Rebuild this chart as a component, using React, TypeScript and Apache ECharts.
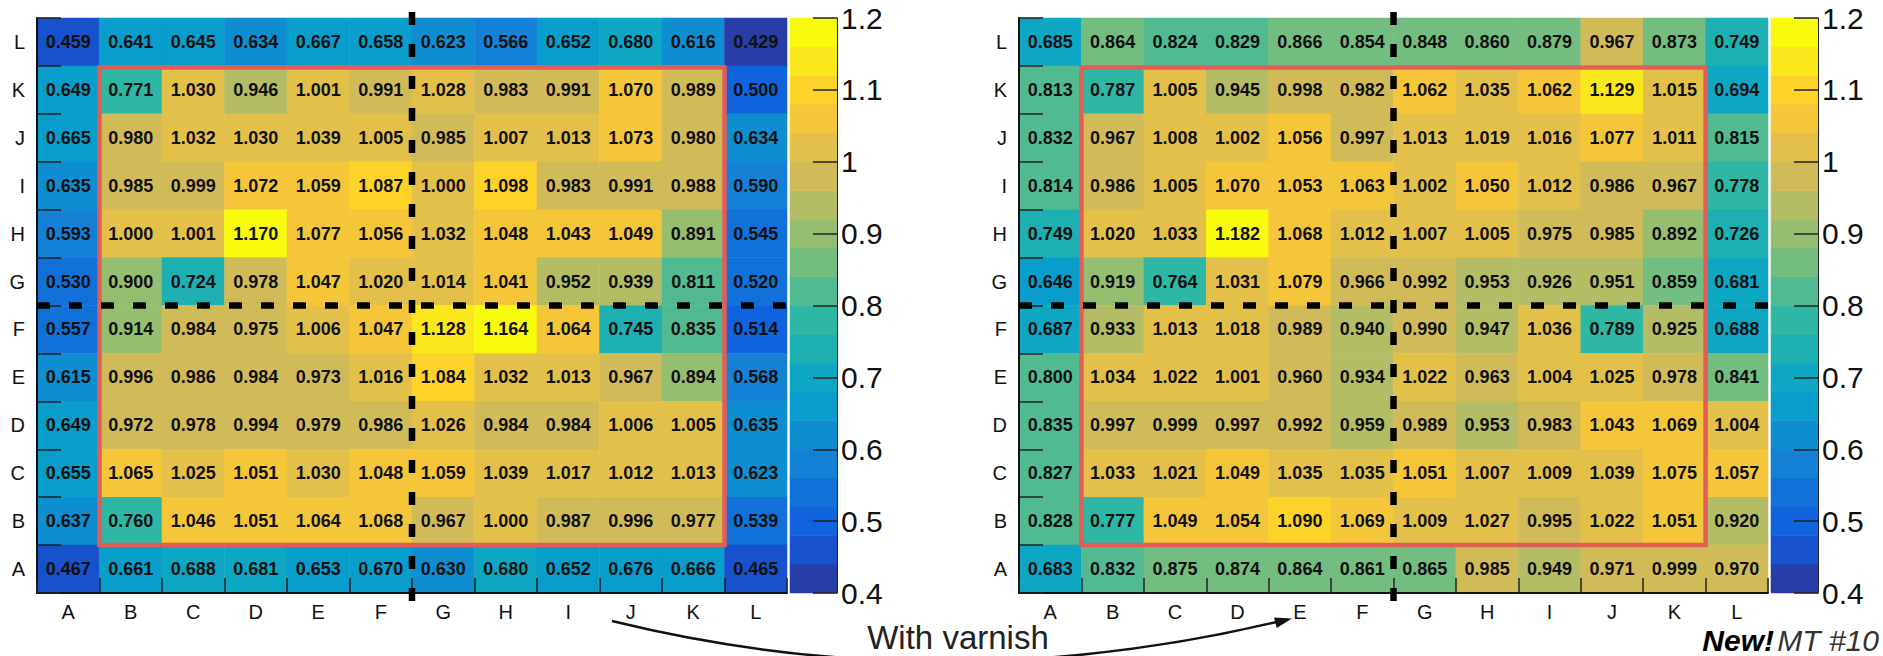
import React, { useEffect, useRef } from 'react';
import * as echarts from 'echarts';

// ---------- data ----------
const columns = ['A', 'B', 'C', 'D', 'E', 'F', 'G', 'H', 'I', 'J', 'K', 'L'];
const rowsTopToBottom = ['L', 'K', 'J', 'I', 'H', 'G', 'F', 'E', 'D', 'C', 'B', 'A'];

// rows listed from L (top) to A (bottom), columns A..L
const withoutVarnish: number[][] = [
  [0.459, 0.641, 0.645, 0.634, 0.667, 0.658, 0.623, 0.566, 0.652, 0.680, 0.616, 0.429],
  [0.649, 0.771, 1.030, 0.946, 1.001, 0.991, 1.028, 0.983, 0.991, 1.070, 0.989, 0.500],
  [0.665, 0.980, 1.032, 1.030, 1.039, 1.005, 0.985, 1.007, 1.013, 1.073, 0.980, 0.634],
  [0.635, 0.985, 0.999, 1.072, 1.059, 1.087, 1.000, 1.098, 0.983, 0.991, 0.988, 0.590],
  [0.593, 1.000, 1.001, 1.170, 1.077, 1.056, 1.032, 1.048, 1.043, 1.049, 0.891, 0.545],
  [0.530, 0.900, 0.724, 0.978, 1.047, 1.020, 1.014, 1.041, 0.952, 0.939, 0.811, 0.520],
  [0.557, 0.914, 0.984, 0.975, 1.006, 1.047, 1.128, 1.164, 1.064, 0.745, 0.835, 0.514],
  [0.615, 0.996, 0.986, 0.984, 0.973, 1.016, 1.084, 1.032, 1.013, 0.967, 0.894, 0.568],
  [0.649, 0.972, 0.978, 0.994, 0.979, 0.986, 1.026, 0.984, 0.984, 1.006, 1.005, 0.635],
  [0.655, 1.065, 1.025, 1.051, 1.030, 1.048, 1.059, 1.039, 1.017, 1.012, 1.013, 0.623],
  [0.637, 0.760, 1.046, 1.051, 1.064, 1.068, 0.967, 1.000, 0.987, 0.996, 0.977, 0.539],
  [0.467, 0.661, 0.688, 0.681, 0.653, 0.670, 0.630, 0.680, 0.652, 0.676, 0.666, 0.465],
];

const withVarnish: number[][] = [
  [0.685, 0.864, 0.824, 0.829, 0.866, 0.854, 0.848, 0.860, 0.879, 0.967, 0.873, 0.749],
  [0.813, 0.787, 1.005, 0.945, 0.998, 0.982, 1.062, 1.035, 1.062, 1.129, 1.015, 0.694],
  [0.832, 0.967, 1.008, 1.002, 1.056, 0.997, 1.013, 1.019, 1.016, 1.077, 1.011, 0.815],
  [0.814, 0.986, 1.005, 1.070, 1.053, 1.063, 1.002, 1.050, 1.012, 0.986, 0.967, 0.778],
  [0.749, 1.020, 1.033, 1.182, 1.068, 1.012, 1.007, 1.005, 0.975, 0.985, 0.892, 0.726],
  [0.646, 0.919, 0.764, 1.031, 1.079, 0.966, 0.992, 0.953, 0.926, 0.951, 0.859, 0.681],
  [0.687, 0.933, 1.013, 1.018, 0.989, 0.940, 0.990, 0.947, 1.036, 0.789, 0.925, 0.688],
  [0.800, 1.034, 1.022, 1.001, 0.960, 0.934, 1.022, 0.963, 1.004, 1.025, 0.978, 0.841],
  [0.835, 0.997, 0.999, 0.997, 0.992, 0.959, 0.989, 0.953, 0.983, 1.043, 1.069, 1.004],
  [0.827, 1.033, 1.021, 1.049, 1.035, 1.035, 1.051, 1.007, 1.009, 1.039, 1.075, 1.057],
  [0.828, 0.777, 1.049, 1.054, 1.090, 1.069, 1.009, 1.027, 0.995, 1.022, 1.051, 0.920],
  [0.683, 0.832, 0.875, 0.874, 0.864, 0.861, 0.865, 0.985, 0.949, 0.971, 0.999, 0.970],
];

const scaleMin = 0.4;
const scaleMax = 1.2;
const scaleStep = 0.1;
const nBands = 20;

// ---------- palette (ROOT kBird) ----------
const birdStops = [0, 0.125, 0.25, 0.375, 0.5, 0.625, 0.75, 0.875, 1];
const birdR = [0.2082, 0.0592, 0.078, 0.0232, 0.1802, 0.5301, 0.8186, 0.9956, 0.9764];
const birdG = [0.1664, 0.3599, 0.5041, 0.6419, 0.7178, 0.7492, 0.7328, 0.7862, 0.9832];
const birdB = [0.5293, 0.8684, 0.8385, 0.7914, 0.6425, 0.4662, 0.3499, 0.1968, 0.0539];

function birdColor(t: number): string {
  let k = 0;
  while (k < birdStops.length - 2 && t > birdStops[k + 1]) k++;
  const f = (t - birdStops[k]) / (birdStops[k + 1] - birdStops[k]);
  const c = (a: number[]) => Math.round(255 * (a[k] + f * (a[k + 1] - a[k])));
  return `rgb(${c(birdR)},${c(birdG)},${c(birdB)})`;
}

const bandLo = (i: number) => Math.round((scaleMin + (i * (scaleMax - scaleMin)) / nBands) * 1000) / 1000;
const bandColors = Array.from({ length: nBands }, (_, i) => birdColor(Math.floor(((i + 0.99) * 255) / nBands) / 254));
const pieces = bandColors.map((color, i) =>
  i === nBands - 1 ? { gte: bandLo(i), lte: bandLo(i + 1), color } : { gte: bandLo(i), lt: bandLo(i + 1), color }
);
const bandNames = bandColors.map((_, i) => 'b' + i);
const colorbarData = bandColors.map((_, i) => [0, i, (bandLo(i) + bandLo(i + 1)) / 2]);

function toHeat(values: number[][]) {
  const out: number[][] = [];
  values.forEach((row, r) => {
    const y = rowsTopToBottom.length - 1 - r;
    row.forEach((v, x) => out.push([x, y, v]));
  });
  return out;
}

const FONT = 'Liberation Sans';
const rowsBottomToTop = [...rowsTopToBottom].reverse();

const heatX = (gridIndex: number) => ({
  type: 'category',
  gridIndex,
  data: columns,
  position: 'bottom',
  z: 10,
  axisLine: { show: true, lineStyle: { color: '#111', width: 2 } },
  axisTick: { show: true, inside: true, length: 15, lineStyle: { color: '#222', width: 1.5 } },
  axisLabel: { interval: 0, fontSize: 20, color: '#111', fontFamily: FONT, margin: 9 },
  splitLine: { show: false },
});
const heatY = (gridIndex: number) => ({
  type: 'category',
  gridIndex,
  data: rowsBottomToTop,
  z: 10,
  axisLine: { show: true, lineStyle: { color: '#111', width: 2 } },
  axisTick: { show: true, inside: true, length: 24, lineStyle: { color: '#222', width: 1.5 } },
  axisLabel: { interval: 0, fontSize: 20, color: '#111', fontFamily: FONT, margin: 12 },
  splitLine: { show: false },
});
const barX = (gridIndex: number) => ({ type: 'category', gridIndex, data: ['c'], show: false });
const barY = (gridIndex: number) => ({ type: 'category', gridIndex, data: bandNames, show: false });
const barScale = (gridIndex: number) => ({
  type: 'value',
  gridIndex,
  position: 'right',
  min: scaleMin,
  max: scaleMax,
  interval: scaleStep,
  z: 10,
  axisLine: { show: true, lineStyle: { color: '#222', width: 1 } },
  axisTick: { show: true, inside: true, length: 24, lineStyle: { color: '#222', width: 1.5 } },
  axisLabel: {
    fontSize: 30,
    color: '#111',
    fontFamily: FONT,
    margin: 4,
    formatter: (v: number) => String(Math.round(v * 10) / 10),
  },
  splitLine: { show: false },
});

const heatSeries = (xi: number, yi: number, values: number[][]) => ({
  type: 'heatmap',
  xAxisIndex: xi,
  yAxisIndex: yi,
  data: toHeat(values),
  label: {
    show: true,
    formatter: (p: any) => Number(p.value[2]).toFixed(3),
    fontSize: 18,
    fontWeight: 'bold',
    color: '#111',
    fontFamily: FONT,
  },
  itemStyle: { borderWidth: 0 },
  emphasis: { disabled: true },
});
const barSeries = (xi: number, yi: number) => ({
  type: 'heatmap',
  xAxisIndex: xi,
  yAxisIndex: yi,
  data: colorbarData,
  label: { show: false },
  emphasis: { disabled: true },
});

function overlays(chart: any, seriesIndex: number) {
  const c00 = chart.convertToPixel({ seriesIndex }, [0, 0]);
  const c11 = chart.convertToPixel({ seriesIndex }, [1, 1]);
  const w = c11[0] - c00[0];
  const h = c00[1] - c11[1];
  const xb = (i: number) => c00[0] + (i - 0.5) * w;
  const yb = (j: number) => c00[1] - (j - 0.5) * h;
  return [
    {
      type: 'rect',
      z: 100,
      shape: { x: xb(1), y: yb(11) + 1.5, width: xb(11) - xb(1), height: yb(1) - yb(11) - 1.5 },
      style: { fill: 'none', stroke: '#e35d57', lineWidth: 4.5 },
    },
    {
      type: 'line',
      z: 101,
      shape: { x1: xb(6), y1: yb(12) - 6, x2: xb(6), y2: yb(0) + 10 },
      style: { stroke: '#000', lineWidth: 6.5, lineDash: [13, 19] },
    },
    {
      type: 'line',
      z: 101,
      shape: { x1: xb(0), y1: yb(6), x2: xb(12), y2: yb(6) },
      style: { stroke: '#000', lineWidth: 6.5, lineDash: [13, 19] },
    },
  ];
}

const annotations = [
  {
    type: 'bezierCurve',
    z: 100,
    shape: { x1: 612, y1: 621, cpx1: 836, cpy1: 676, cpx2: 1062, cpy2: 674, x2: 1285, y2: 620 },
    style: { stroke: '#111', lineWidth: 2.5, fill: 'none' },
  },
  {
    type: 'polygon',
    z: 100,
    shape: { points: [[1292, 618.6], [1276.7, 628], [1274.1, 617.4]] },
    style: { fill: '#111' },
  },
  {
    type: 'text',
    z: 100,
    x: 958,
    y: 637,
    style: {
      text: 'With varnish',
      fontSize: 33,
      fontFamily: FONT,
      fill: '#222',
      align: 'center',
      verticalAlign: 'middle',
    },
  },
  {
    type: 'text',
    z: 100,
    x: 1879,
    y: 640,
    style: {
      text: '{a|New!} {b|MT #10}',
      align: 'right',
      verticalAlign: 'middle',
      rich: {
        a: { fontSize: 30, fontWeight: 'bold', fontStyle: 'italic', fontFamily: FONT, fill: '#000', color: '#000' },
        b: { fontSize: 30, fontStyle: 'italic', fontFamily: FONT, fill: '#333', color: '#333' },
      },
    },
  },
];

export default function App() {
  const ref = useRef<HTMLDivElement>(null);
  useEffect(() => {
    if (!ref.current) return;
    const chart = echarts.init(ref.current, null, { renderer: 'svg' });
    chart.setOption({
      animation: false,
      backgroundColor: '#fff',
      grid: [
        { left: 37, top: 18, width: 750, height: 575 },
        { left: 790, top: 18, width: 47, height: 575 },
        { left: 1019, top: 18, width: 749, height: 575 },
        { left: 1771, top: 18, width: 47, height: 575 },
      ],
      xAxis: [heatX(0), barX(1), heatX(2), barX(3)],
      yAxis: [heatY(0), barY(1), barScale(1), heatY(2), barY(3), barScale(3)],
      visualMap: {
        type: 'piecewise',
        show: false,
        dimension: 2,
        seriesIndex: [0, 1, 2, 3],
        pieces,
      },
      series: [
        heatSeries(0, 0, withoutVarnish),
        barSeries(1, 1),
        heatSeries(2, 3, withVarnish),
        barSeries(3, 4),
      ],
    });
    chart.setOption({ graphic: [...overlays(chart, 0), ...overlays(chart, 2), ...annotations] });
    return () => chart.dispose();
  }, []);
  return (
    <div
      ref={ref}
      style={{ position: 'fixed', left: 0, top: 0, width: 1883, height: 656, background: '#fff' }}
    />
  );
}
